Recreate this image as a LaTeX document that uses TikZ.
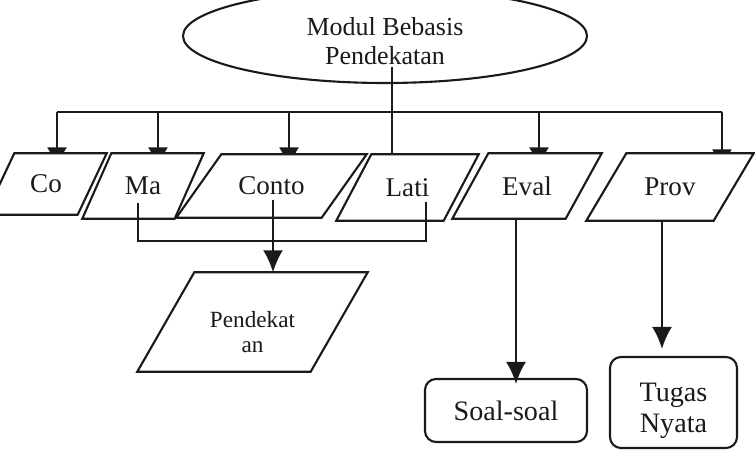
\documentclass[tikz,border=0pt]{standalone}
\usepackage{fontspec}
\setmainfont{Liberation Serif}
\usetikzlibrary{arrows.meta,backgrounds,calc,positioning,shapes.geometric}
\definecolor{FigInk}{HTML}{1A1A1A}
\newcommand{\MBRootText}{\fontsize{7.4}{8.3}\selectfont}
\newcommand{\MBPartText}{\fontsize{7.7}{8.6}\selectfont}
\newcommand{\MBSubText}{\fontsize{6.6}{7.2}\selectfont}
\newcommand{\MBBoxText}{\fontsize{8.0}{8.8}\selectfont}
% pushes a text block a bit lower in its node
\newcommand{\MBLift}[1]{\rule{0pt}{#1}}
% slanted outline round a part node: #1 node, #2 half of the slant
\newcommand{\MBSlantFrame}[2]{%
  \path[partline] ([xshift=-#2]#1.south west) -- ([xshift=-#2]#1.south east)
    -- ([xshift=#2]#1.north east) -- ([xshift=#2]#1.north west) -- cycle;}
\tikzset{
  mbbase/.style={
    draw=FigInk,
    fill=white,
    line width=0.6pt,
    align=center,
    inner sep=0pt,
    text=FigInk
  },
  rootoval/.style={mbbase, ellipse, font=\MBRootText},
  partbox/.style={
    rectangle,
    align=center,
    inner sep=0pt,
    text=FigInk,
    font=\MBPartText
  },
  partline/.style={draw=FigInk, fill=white, line width=0.6pt, line join=miter},
  resultbox/.style={mbbase, rectangle, rounded corners=1.1mm, font=\MBBoxText},
  link/.style={draw=FigInk, line width=0.6pt},
  flowarrow/.style={
    link,
    -{Latex[length=2.2mm,width=2.0mm]}
  }
}

\begin{document}
\begin{tikzpicture}[x=1cm,y=1cm]
\path[use as bounding box] (0,0) rectangle (7.55,4.53);

\node[rootoval, minimum width=4.04cm, minimum height=0.94cm] (modul) at (3.85,4.17)
  {\MBLift{0.29cm}Modul Bebasis\\Pendekatan};

\node[partbox, minimum width=0.91cm, minimum height=0.60cm] (co) at (0.46,2.69) {Co};
\node[partbox, minimum width=0.91cm, minimum height=0.64cm] (ma) at (1.43,2.67) {Ma};
\node[partbox, minimum width=1.44cm, minimum height=0.62cm] (conto) at (2.715,2.67) {Conto};
\node[partbox, minimum width=1.06cm, minimum height=0.65cm] (lati) at (4.075,2.655) {Lati};
\node[partbox, minimum width=1.12cm, minimum height=0.64cm] (eval) at (5.27,2.67) {Eval};
\node[partbox, minimum width=1.26cm, minimum height=0.66cm] (prov) at (6.70,2.66) {Prov};

\node[partbox, font=\MBSubText, minimum width=1.72cm, minimum height=0.98cm] (pend) at (2.525,1.31)
  {\MBLift{0.36cm}Pendekat\\an};

\node[resultbox, minimum width=1.62cm, minimum height=0.63cm] (soal) at (5.06,0.425) {Soal-soal};
\node[resultbox, minimum width=1.27cm, minimum height=0.91cm] (tugas) at (6.735,0.505)
  {\MBLift{0.35cm}Tugas\\Nyata};

\coordinate (stem) at (3.92,3.86);
\coordinate (bar) at (3.92,3.41);
\coordinate (coin) at ([xshift=0.11cm]co.north);
\coordinate (main) at ([xshift=0.15cm]ma.north);
\coordinate (contoin) at ([xshift=0.175cm]conto.north);
\coordinate (evalin) at ([xshift=0.12cm]eval.north);
\coordinate (provin) at ([xshift=0.52cm]prov.north);
\coordinate (maout) at ([xshift=-0.05cm,yshift=-0.17cm]ma.center);
\coordinate (latiout) at ([xshift=0.185cm,yshift=-0.145cm]lati.center);
\coordinate (contoout) at ([xshift=0.015cm,yshift=-0.14cm]conto.center);
\coordinate (join) at (2.73,2.12);
\coordinate (evalout) at ([xshift=-0.11cm]eval.south);
\coordinate (provout) at ([xshift=-0.08cm]prov.south);

\begin{scope}[on background layer]
\draw[flowarrow] (bar -| coin) -- ([yshift=-0.16cm]coin);
\draw[flowarrow] (bar -| main) -- ([yshift=-0.16cm]main);
\draw[flowarrow] (bar -| contoin) -- ([yshift=-0.15cm]contoin);
\draw[flowarrow] (bar -| evalin) -- ([yshift=-0.16cm]evalin);
\draw[flowarrow] (bar -| provin) -- ([yshift=-0.18cm]provin);
\MBSlantFrame{co}{0.145cm}
\MBSlantFrame{ma}{0.145cm}
\MBSlantFrame{conto}{0.225cm}
\MBSlantFrame{lati}{0.175cm}
\MBSlantFrame{eval}{0.18cm}
\MBSlantFrame{prov}{0.20cm}
\MBSlantFrame{pend}{0.285cm}
\end{scope}

\draw[link] (bar -| coin) -- (bar -| provin);
\draw[link] (stem) -- (stem |- lati.north);

\draw[link] (maout) |- (join) -| (latiout);
\draw[flowarrow] (contoout) -- (contoout |- pend.north);
\draw[flowarrow, shorten >=-0.6mm] (evalout) -- (evalout |- soal.north);
\draw[flowarrow, shorten >=0.7mm] (provout) -- (provout |- tugas.north);

\end{tikzpicture}
\end{document}
